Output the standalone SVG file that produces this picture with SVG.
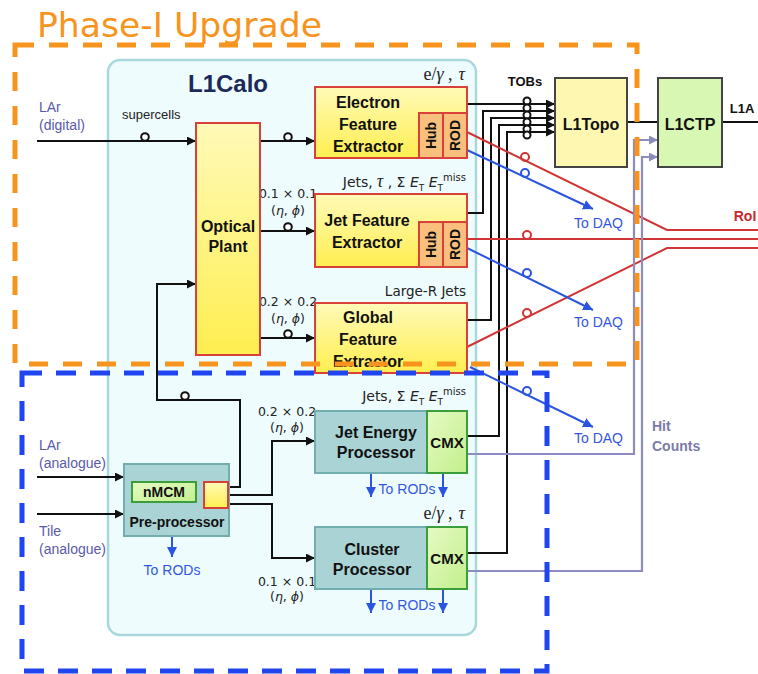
<svg xmlns="http://www.w3.org/2000/svg" width="758" height="674" viewBox="0 0 758 674">
<defs>
<style>
.b{font-family:"Liberation Sans",Arial,sans-serif;font-weight:bold;fill:#111;text-anchor:middle}
.s{font-family:"Liberation Sans",Arial,sans-serif;fill:#222}
.m{font-family:"Liberation Serif","DejaVu Serif",serif;fill:#222;font-size:18px}
.ms{font-family:"DejaVu Sans",sans-serif;fill:#222}
.blue{font-family:"Liberation Sans",Arial,sans-serif;fill:#3356e0;font-size:14px}
.lav{font-family:"Liberation Sans",Arial,sans-serif;fill:#7b7bab;font-size:14px;font-weight:bold}
.ylw{fill:url(#gy);stroke:#d8403a;stroke-width:2}
.org{fill:#f8c07c;stroke:#d8403a;stroke-width:2}
.teal{fill:#a9d3d4;stroke:#72adaf;stroke-width:2}
.grn{fill:url(#gg);stroke:#3b9e3b;stroke-width:2}
.k{fill:none;stroke:#111;stroke-width:2}
.r{fill:none;stroke:#d03434;stroke-width:2}
.bl{fill:none;stroke:#2a55e0;stroke-width:2}
.lv{fill:none;stroke:#8c8cc0;stroke-width:2.2}
.ck{fill:#fff;stroke:#111;stroke-width:2}
.cr{fill:none;stroke:#d03434;stroke-width:2}
.cb{fill:none;stroke:#2a55e0;stroke-width:2}
</style>
<linearGradient id="gy" x1="0" y1="0" x2="0" y2="1">
<stop offset="0" stop-color="#fffab8"/><stop offset="1" stop-color="#ffee50"/>
</linearGradient>
<linearGradient id="gg" x1="0" y1="0" x2="1" y2="1">
<stop offset="0" stop-color="#e6fac4"/><stop offset="1" stop-color="#c2ef8c"/>
</linearGradient>
<marker id="ak" viewBox="0 0 10 10" refX="10" refY="5" markerWidth="9" markerHeight="9" markerUnits="userSpaceOnUse" orient="auto"><path d="M0,0 L10,5 L0,10 z" fill="#111"/></marker>
<marker id="ab" viewBox="0 0 10 10" refX="10" refY="5" markerWidth="10" markerHeight="10" markerUnits="userSpaceOnUse" orient="auto"><path d="M0,0 L10,5 L0,10 z" fill="#2a55e0"/></marker>
<marker id="al" viewBox="0 0 10 10" refX="10" refY="5" markerWidth="9" markerHeight="9" markerUnits="userSpaceOnUse" orient="auto"><path d="M0,0 L10,5 L0,10 z" fill="#8c8cc0"/></marker>
</defs>
<rect width="758" height="674" fill="#fff"/>

<g id="L1Calo">
<rect x="108" y="60" width="368" height="575" rx="12" fill="#eefcfd" stroke="#a8d8dc" stroke-width="2.5"/>
<text class="b" x="228" y="92" font-size="24" style="fill:#1c2a5a">L1Calo</text>
</g>

<g id="labels">
<text class="s" x="39" y="112" font-size="14" style="fill:#5a5aa8">LAr</text>
<text class="s" x="39" y="130" font-size="14" style="fill:#5a5aa8">(digital)</text>
<text class="s" x="122" y="119" font-size="13">supercells</text>
<text class="s" x="39" y="450" font-size="14" style="fill:#5a5aa8">LAr</text>
<text class="s" x="39" y="468" font-size="14" style="fill:#5a5aa8">(analogue)</text>
<text class="s" x="39" y="536" font-size="14" style="fill:#5a5aa8">Tile</text>
<text class="s" x="39" y="554" font-size="14" style="fill:#5a5aa8">(analogue)</text>
<text class="m" x="465" y="80" text-anchor="end">e/<tspan font-style="italic">γ</tspan> ,<tspan dx="6" font-style="italic">τ</tspan></text>
<text class="ms" x="466" y="187" text-anchor="end" style="font-size:14px">Jets,<tspan class="m" dx="4" font-style="italic">τ</tspan> , Σ <tspan font-style="italic">E</tspan><tspan style="font-size:9px" dy="4">T</tspan><tspan dy="-4"> </tspan><tspan font-style="italic">E</tspan><tspan style="font-size:9px" dy="4">T</tspan><tspan style="font-size:10px" dy="-10">miss</tspan></text>
<text class="ms" x="466" y="296" text-anchor="end" style="font-size:13.5px">Large-R Jets</text>
<text class="ms" x="466" y="401" text-anchor="end" style="font-size:14px">Jets, Σ <tspan font-style="italic">E</tspan><tspan style="font-size:9px" dy="4">T</tspan><tspan dy="-4"> </tspan><tspan font-style="italic">E</tspan><tspan style="font-size:9px" dy="4">T</tspan><tspan style="font-size:10px" dy="-10">miss</tspan></text>
<text class="m" x="465" y="519" text-anchor="end">e/<tspan font-style="italic">γ</tspan> ,<tspan dx="6" font-style="italic">τ</tspan></text>
<g class="ms" text-anchor="middle" style="font-size:12.5px">
<text x="288" y="198">0.1 × 0.1</text><text x="288" y="215">(<tspan font-style="italic">η</tspan>, <tspan font-style="italic">ϕ</tspan>)</text>
<text x="288" y="306">0.2 × 0.2</text><text x="288" y="323">(<tspan font-style="italic">η</tspan>, <tspan font-style="italic">ϕ</tspan>)</text>
<text x="287" y="416">0.2 × 0.2</text><text x="287" y="432">(<tspan font-style="italic">η</tspan>, <tspan font-style="italic">ϕ</tspan>)</text>
<text x="287" y="586">0.1 × 0.1</text><text x="287" y="601">(<tspan font-style="italic">η</tspan>, <tspan font-style="italic">ϕ</tspan>)</text>
</g>
<text class="b" x="525" y="86" font-size="13">TOBs</text>
<text class="b" x="742" y="113" font-size="13">L1A</text>
<text class="b" x="745" y="221" font-size="14" style="fill:#c8282e">RoI</text>
<text class="blue" x="574" y="228">To DAQ</text>
<text class="blue" x="574" y="327">To DAQ</text>
<text class="blue" x="574" y="443">To DAQ</text>
<text class="blue" x="172" y="575" text-anchor="middle">To RODs</text>
<text class="blue" x="407" y="494" text-anchor="middle">To RODs</text>
<text class="blue" x="407" y="610" text-anchor="middle">To RODs</text>
<text class="lav" x="652" y="431">Hit</text>
<text class="lav" x="652" y="451">Counts</text>
</g>

<g id="connectors">
<path class="k" d="M37,141 H196" marker-end="url(#ak)"/>
<path class="k" d="M260,141 H315" marker-end="url(#ak)"/>
<path class="k" d="M260,231 H315" marker-end="url(#ak)"/>
<path class="k" d="M260,338 H315" marker-end="url(#ak)"/>
<path class="k" d="M228,487 H240 V400 H157 V284 H196" marker-end="url(#ak)"/>
<path class="k" d="M228,495 H272 V441 H315" marker-end="url(#ak)"/>
<path class="k" d="M228,504 H272 V558 H315" marker-end="url(#ak)"/>
<path class="k" d="M37,477 H124" marker-end="url(#ak)"/>
<path class="k" d="M37,514 H124" marker-end="url(#ak)"/>
<path class="k" d="M467,104 H555" marker-end="url(#ak)"/>
<path class="k" d="M467,213 H483 V111 H555" marker-end="url(#ak)"/>
<path class="k" d="M467,320 H491 V118 H555" marker-end="url(#ak)"/>
<path class="k" d="M467,436 H499 V125 H555" marker-end="url(#ak)"/>
<path class="k" d="M467,553 H507 V132 H555" marker-end="url(#ak)"/>
<path class="k" d="M627,122 H658"/>
<path class="k" d="M722,122 H758"/>
<path class="r" d="M467,132 L667,230 H758"/>
<path class="r" d="M467,239 H758"/>
<path class="r" d="M467,347 L667,248 H758"/>
<path class="bl" d="M467,150 L593,209" marker-end="url(#ab)"/>
<path class="bl" d="M467,248 L593,310" marker-end="url(#ab)"/>
<path class="bl" d="M470,367 L593,427" marker-end="url(#ab)"/>
<path class="lv" d="M467,454 H634 V140 H658" marker-end="url(#al)"/>
<path class="lv" d="M467,571 H642 V157 H658" marker-end="url(#al)"/>
<path class="bl" d="M172,532 V557" marker-end="url(#ab)"/>
<path class="bl" d="M371,473 V497" marker-end="url(#ab)"/>
<path class="bl" d="M443,473 V497" marker-end="url(#ab)"/>
<path class="bl" d="M371,589 V613" marker-end="url(#ab)"/>
<path class="bl" d="M443,589 V613" marker-end="url(#ab)"/>
<circle class="ck" cx="145" cy="137" r="3.8"/>
<circle class="ck" cx="288" cy="137" r="3.8"/>
<circle class="ck" cx="288" cy="227" r="3.8"/>
<circle class="ck" cx="288" cy="334" r="3.8"/>
<circle class="ck" cx="185" cy="396" r="3.8"/>
<circle class="ck" cx="527" cy="101" r="3.5"/>
<circle class="ck" cx="527" cy="108" r="3.5"/>
<circle class="ck" cx="527" cy="115" r="3.5"/>
<circle class="ck" cx="527" cy="122" r="3.5"/>
<circle class="ck" cx="527" cy="129" r="3.5"/>
<circle class="ck" cx="527" cy="135" r="3.5"/>
<circle class="cr" cx="525" cy="157" r="4"/>
<circle class="cr" cx="527" cy="235" r="4"/>
<circle class="cr" cx="527" cy="313" r="4"/>
<circle class="cb" cx="525" cy="173" r="4"/>
<circle class="cb" cx="527" cy="273" r="4"/>
<circle class="cb" cx="527" cy="391" r="4"/>
</g>

<g id="OpticalPlant">
<rect class="ylw" x="196" y="123" width="64" height="232"/>
<text class="b" x="228" y="232" font-size="16">Optical</text>
<text class="b" x="228" y="252" font-size="16">Plant</text>
</g>

<g id="eFEX">
<rect class="ylw" x="315" y="87" width="152" height="71"/>
<text class="b" x="368" y="108" font-size="16">Electron</text>
<text class="b" x="368" y="130" font-size="16">Feature</text>
<text class="b" x="368" y="152" font-size="16">Extractor</text>
<rect class="org" x="419" y="113" width="24" height="45"/>
<rect class="org" x="443" y="113" width="24" height="45"/>
<text class="b" font-size="14" transform="translate(436,135.5) rotate(-90)">Hub</text>
<text class="b" font-size="14" transform="translate(460,135.5) rotate(-90)">ROD</text>
</g>

<g id="jFEX">
<rect class="ylw" x="315" y="194" width="152" height="73"/>
<text class="b" x="367" y="226" font-size="16">Jet Feature</text>
<text class="b" x="367" y="248" font-size="16">Extractor</text>
<rect class="org" x="419" y="222" width="24" height="45"/>
<rect class="org" x="443" y="222" width="24" height="45"/>
<text class="b" font-size="14" transform="translate(436,244.5) rotate(-90)">Hub</text>
<text class="b" font-size="14" transform="translate(460,244.5) rotate(-90)">ROD</text>
</g>

<g id="gFEX">
<rect class="ylw" x="315" y="303" width="152" height="70"/>
<text class="b" x="368" y="323" font-size="16">Global</text>
<text class="b" x="368" y="345" font-size="16">Feature</text>
<text class="b" x="368" y="367" font-size="16">Extractor</text>
</g>

<g id="JEP">
<rect class="teal" x="315" y="411" width="152" height="62"/>
<rect class="grn" x="427" y="411" width="40" height="62"/>
<text class="b" x="376" y="438" font-size="16">Jet Energy</text>
<text class="b" x="376" y="458" font-size="16">Processor</text>
<text class="b" x="447" y="448" font-size="15">CMX</text>
</g>

<g id="CP">
<rect class="teal" x="315" y="527" width="152" height="62"/>
<rect class="grn" x="427" y="527" width="40" height="62"/>
<text class="b" x="372" y="555" font-size="16">Cluster</text>
<text class="b" x="372" y="575" font-size="16">Processor</text>
<text class="b" x="447" y="564" font-size="15">CMX</text>
</g>

<g id="PreProcessor">
<rect class="teal" x="124" y="464" width="105" height="72"/>
<rect class="grn" x="132" y="482" width="64" height="20"/>
<text class="b" x="164" y="497" font-size="14">nMCM</text>
<rect class="ylw" x="204" y="482" width="24" height="26"/>
<text class="b" x="177" y="527" font-size="14">Pre-processor</text>
</g>

<g id="L1Topo">
<rect x="555" y="78" width="72" height="89" fill="#fdf7b2" stroke="#444" stroke-width="2"/>
<text class="b" x="591" y="130" font-size="16">L1Topo</text>
</g>

<g id="L1CTP">
<rect x="658" y="78" width="64" height="89" fill="#d8f7b2" stroke="#444" stroke-width="2"/>
<text class="b" x="690" y="130" font-size="16">L1CTP</text>
</g>

<g id="PhaseI">
<rect x="15" y="45" width="622" height="319" fill="none" stroke="#f7941d" stroke-width="5" stroke-dasharray="19 15"/>
<text x="37" y="37" font-family="DejaVu Sans,sans-serif" font-size="33" fill="#f7941d" textLength="285" lengthAdjust="spacingAndGlyphs">Phase-I Upgrade</text>
</g>
<g id="Run1Run2">
<rect x="22" y="373" width="525" height="298" fill="none" stroke="#1f45f0" stroke-width="5" stroke-dasharray="20 14"/>
</g>
</svg>
